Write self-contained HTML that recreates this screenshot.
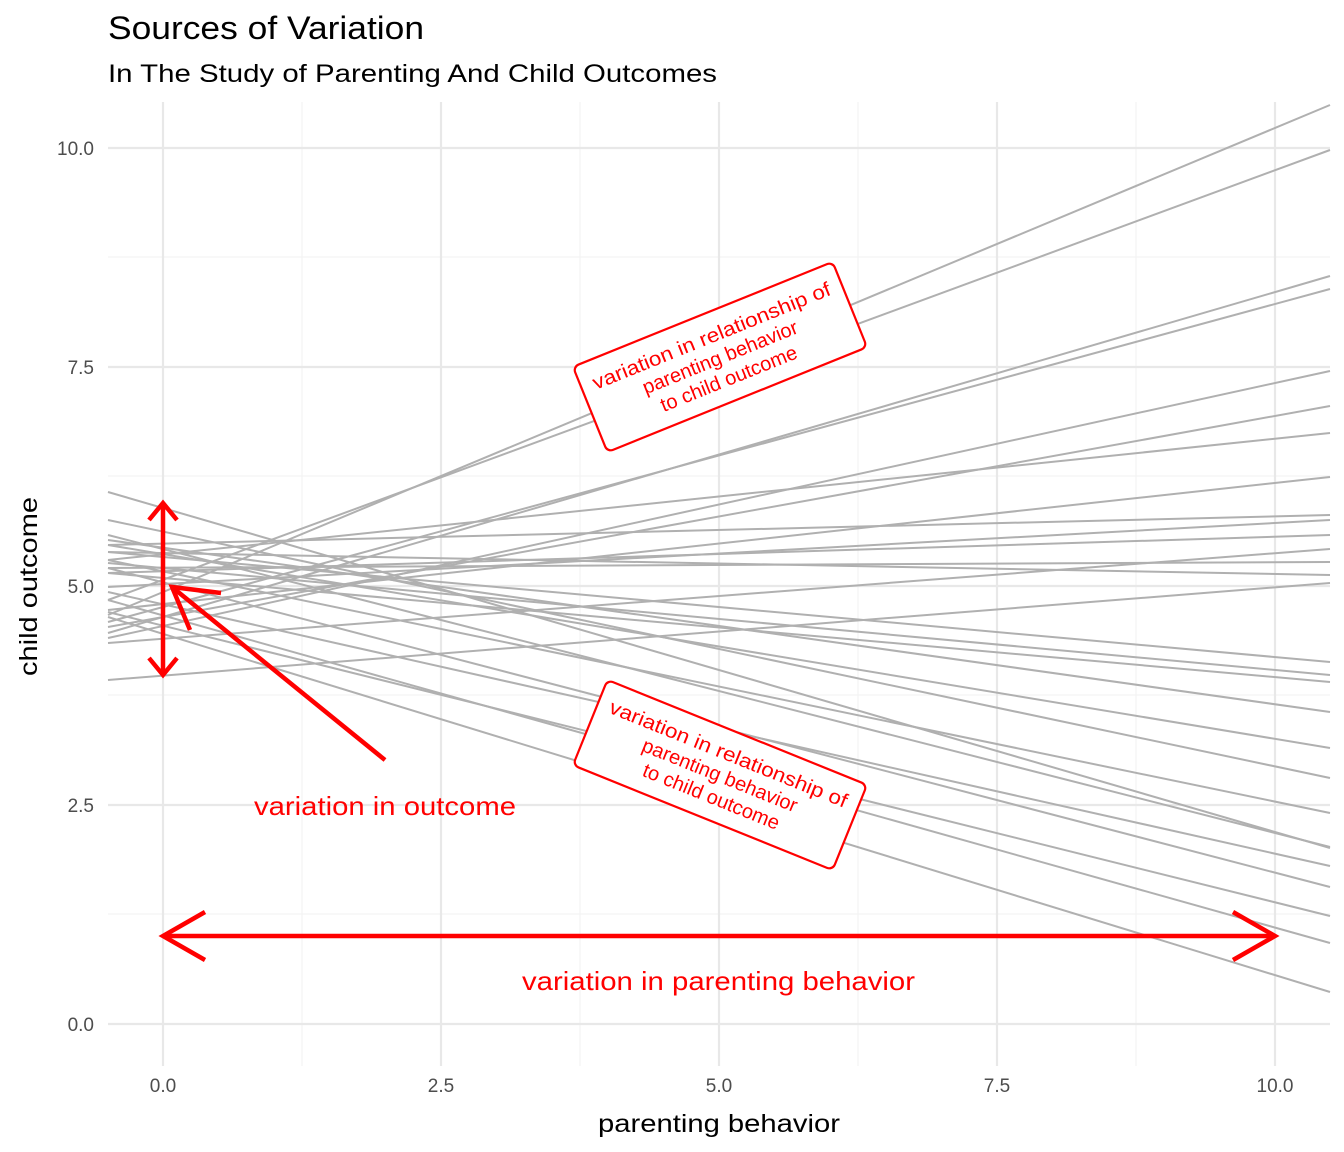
<!DOCTYPE html>
<html><head><meta charset="utf-8"><style>
body{margin:0;background:#fff;font-family:"Liberation Sans",sans-serif}
svg{display:block}
</style></head><body>
<svg width="1344" height="1152" xmlns="http://www.w3.org/2000/svg" font-family="Liberation Sans, sans-serif">
<rect width="1344" height="1152" fill="#fff"/>
<g stroke="#f3f3f3" stroke-width="1.2">
<line x1="302" y1="102" x2="302" y2="1066"/><line x1="580" y1="102" x2="580" y2="1066"/><line x1="858" y1="102" x2="858" y2="1066"/><line x1="1136" y1="102" x2="1136" y2="1066"/>
<line x1="108" y1="257" x2="1330" y2="257"/><line x1="108" y1="476" x2="1330" y2="476"/><line x1="108" y1="695" x2="1330" y2="695"/><line x1="108" y1="914" x2="1330" y2="914"/>
</g>
<g stroke="#e8e8e8" stroke-width="2.2">
<line x1="163" y1="102" x2="163" y2="1066"/><line x1="441" y1="102" x2="441" y2="1066"/><line x1="719" y1="102" x2="719" y2="1066"/><line x1="997" y1="102" x2="997" y2="1066"/><line x1="1275" y1="102" x2="1275" y2="1066"/>
<line x1="108" y1="148" x2="1330" y2="148"/><line x1="108" y1="367" x2="1330" y2="367"/><line x1="108" y1="586" x2="1330" y2="586"/><line x1="108" y1="805" x2="1330" y2="805"/><line x1="108" y1="1024" x2="1330" y2="1024"/>
</g>
<g stroke="#b0b0b0" stroke-width="2" fill="none">
<line x1="108" y1="615" x2="1330" y2="105"/><line x1="108" y1="600" x2="1330" y2="150"/>
<line x1="108" y1="633" x2="1330" y2="276"/><line x1="108" y1="622" x2="1330" y2="289"/>
<line x1="108" y1="638" x2="1330" y2="371"/><line x1="108" y1="627" x2="1330" y2="406"/>
<line x1="108" y1="560" x2="1330" y2="433"/><line x1="108" y1="610" x2="1330" y2="477"/>
<line x1="108" y1="545" x2="1330" y2="515"/><line x1="108" y1="587" x2="1330" y2="520"/>
<line x1="108" y1="573" x2="1330" y2="535"/><line x1="108" y1="643" x2="1330" y2="549"/>
<line x1="108" y1="568" x2="1330" y2="562"/><line x1="108" y1="552" x2="1330" y2="575"/>
<line x1="108" y1="680" x2="1330" y2="583"/>
<line x1="108" y1="552" x2="1330" y2="662"/><line x1="108" y1="563" x2="1330" y2="675"/>
<line x1="108" y1="573" x2="1330" y2="682"/><line x1="108" y1="540" x2="1330" y2="712"/>
<line x1="108" y1="545" x2="1330" y2="748"/><line x1="108" y1="520" x2="1330" y2="778"/>
<line x1="108" y1="560" x2="1330" y2="813"/><line x1="108" y1="535" x2="1330" y2="847"/>
<line x1="108" y1="492" x2="1330" y2="848"/><line x1="108" y1="592" x2="1330" y2="866"/>
<line x1="108" y1="568" x2="1330" y2="887"/><line x1="108" y1="612" x2="1330" y2="916"/>
<line x1="108" y1="600" x2="1330" y2="943"/><line x1="108" y1="617" x2="1330" y2="992"/>
</g>
<g stroke="#ff0000" stroke-width="4.5" fill="none" stroke-linecap="butt">
<line x1="163" y1="503" x2="163" y2="675"/>
<polyline points="149,520 163,503 177,520"/><polyline points="149,658 163,675 177,658"/>
<line x1="385" y1="760" x2="172" y2="587"/>
<polyline points="221,593 172,587 190,630"/>
<line x1="163" y1="936" x2="1275" y2="936"/>
<polyline points="205,912 163,936 205,960"/><polyline points="1233,912 1275,936 1233,960"/>
</g>
<g fill="#ff0000" font-size="26">
<text x="254" y="815" textLength="262" lengthAdjust="spacingAndGlyphs">variation in outcome</text>
<text x="522" y="990" textLength="393" lengthAdjust="spacingAndGlyphs">variation in parenting behavior</text>
</g>
<g transform="translate(720,357) rotate(-22)">
<rect x="-140" y="-46" width="280" height="92" rx="6" fill="#fff" stroke="#ff0000" stroke-width="2.2"/>
<g fill="#ff0000" font-size="20" text-anchor="middle"><text y="-16" textLength="255" lengthAdjust="spacingAndGlyphs">variation in relationship of</text><text y="7">parenting behavior</text><text y="30">to child outcome</text></g>
</g>
<g transform="translate(720,775) rotate(22)">
<rect x="-140" y="-46" width="280" height="92" rx="6" fill="#fff" stroke="#ff0000" stroke-width="2.2"/>
<g fill="#ff0000" font-size="20" text-anchor="middle"><text y="-16" textLength="255" lengthAdjust="spacingAndGlyphs">variation in relationship of</text><text y="7">parenting behavior</text><text y="30">to child outcome</text></g>
</g>
<g fill="#4d4d4d" font-size="19" text-anchor="end">
<text x="94" y="155">10.0</text><text x="94" y="374">7.5</text><text x="94" y="593">5.0</text><text x="94" y="812">2.5</text><text x="94" y="1031">0.0</text>
</g>
<g fill="#4d4d4d" font-size="19" text-anchor="middle">
<text x="163" y="1092">0.0</text><text x="441" y="1092">2.5</text><text x="719" y="1092">5.0</text><text x="997" y="1092">7.5</text><text x="1275" y="1092">10.0</text>
</g>
<text x="598" y="1132" font-size="25" fill="#000" textLength="242" lengthAdjust="spacingAndGlyphs">parenting behavior</text>
<text transform="translate(37,676) rotate(-90)" font-size="25" fill="#000" textLength="179" lengthAdjust="spacingAndGlyphs">child outcome</text>
<text x="108" y="39" font-size="32" fill="#000" textLength="316" lengthAdjust="spacingAndGlyphs">Sources of Variation</text>
<text x="108" y="82" font-size="25" fill="#000" textLength="609" lengthAdjust="spacingAndGlyphs">In The Study of Parenting And Child Outcomes</text>
</svg>
</body></html>
